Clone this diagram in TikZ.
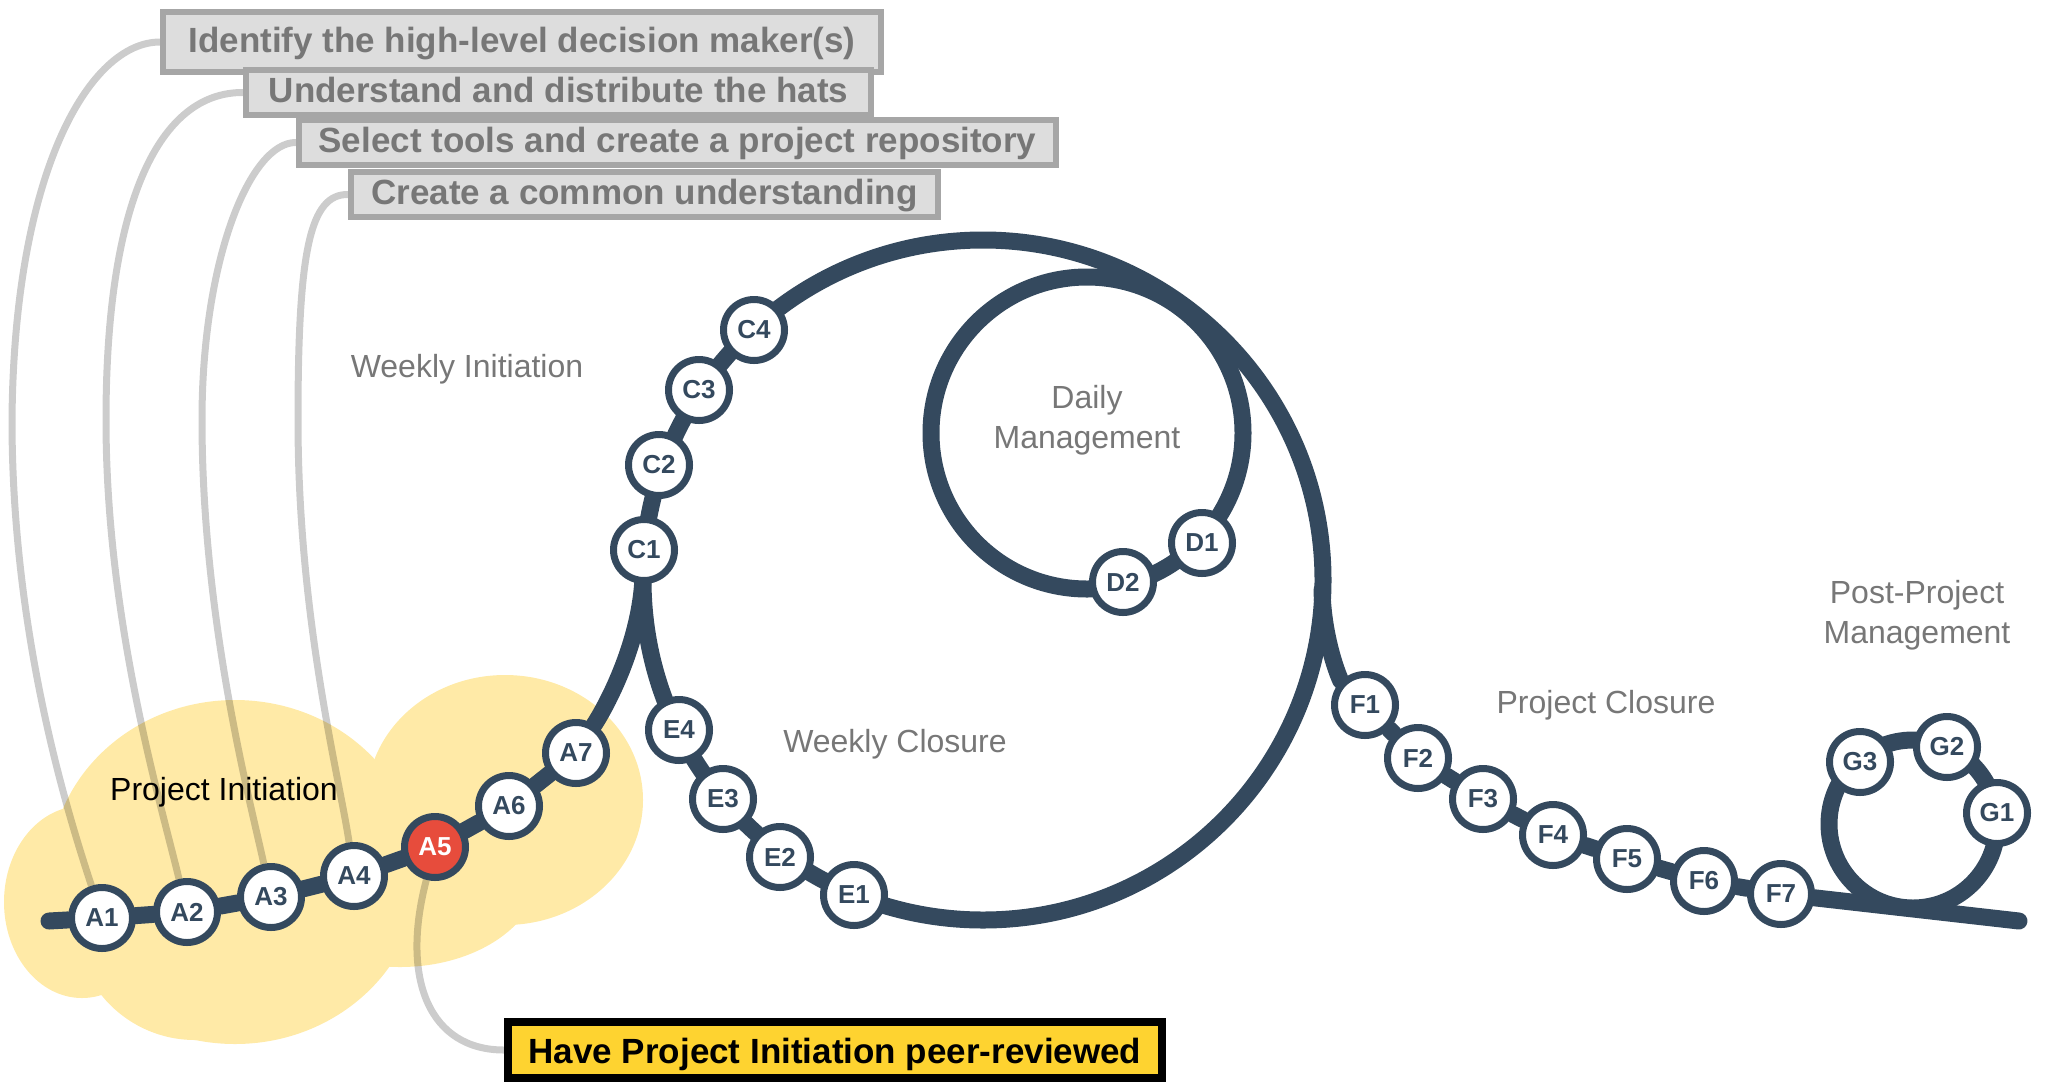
\documentclass[tikz,border=0pt]{standalone}
\usepackage{fontspec}
\setmainfont{Liberation Sans}
\usetikzlibrary{backgrounds}
\definecolor{slate}{RGB}{52,73,94}
\definecolor{coral}{RGB}{231,76,60}
\definecolor{sand}{RGB}{255,234,167}
\definecolor{gold}{RGB}{254,211,48}
\definecolor{fog}{RGB}{221,221,221}
\definecolor{ash}{RGB}{166,166,166}
\definecolor{stone}{RGB}{119,119,119}
\tikzset{
  track/.style={draw=slate,line width=17pt,line cap=round},
  stop/.style={circle,draw=slate,fill=#1,line width=7pt,minimum size=61pt,inner sep=0pt,
    text=slate,font=\fontsize{26}{26}\selectfont\bfseries},
  stop/.default=white,
  task/.style={draw=ash,fill=fog,line width=6pt,minimum height=45pt,inner sep=0pt,
    text height=26pt,text depth=6pt,text=stone,font=\fontsize{35}{35}\selectfont\bfseries},
  lead/.style={draw=black,draw opacity=0.2,line width=7pt},
  tag/.style={text=stone,align=center,font=\fontsize{32}{40}\selectfont},
}
\begin{document}
\begin{tikzpicture}[x=1pt,y=-1pt]
  \useasboundingbox (0,0) rectangle (2055,1085);
  % stations
  \foreach \n/\x/\y in {A1/102/918,A2/187/912,A3/271/897,A4/354/876,A6/509/806,A7/576/753,
    C1/644/550,C2/659/465,C3/699/390,C4/754/330,D1/1202/543,D2/1123/582,
    E1/854/895,E2/780/857,E3/723/799,E4/679/730,
    F1/1365/705,F2/1418/758,F3/1483/799,F4/1553/835,F5/1627/859,F6/1704/881,F7/1781/894,
    G1/1997/813,G2/1947/747,G3/1860/762}
    \node[stop] (\n) at (\x,\y) {\n};
  \node[stop=coral,text=white] (A5) at (435,847) {A5};
  \coordinate (start) at (49,921);
  \coordinate (tail) at (2019,921);
  \coordinate (merge) at (643,578);
  \coordinate (fork) at (1322,590);
  \coordinate (hub) at (983,580);
  \coordinate (dhub) at (1087,433);
  \coordinate (ghub) at (1913,824);
  % phase names
  \node[tag,anchor=base] (wi) at (467,377) {Weekly Initiation};
  \node[tag,anchor=base] (wc) at (895,752) {Weekly Closure};
  \node[tag,anchor=base] (pc) at (1606,713) {Project Closure};
  \node[tag] (dm) at (1087,420) {Daily\\Management};
  \node[tag] (pm) at (1917,615) {Post-Project\\Management};
  \node[tag,text=black,anchor=base] (pi) at (224,800) {Project Initiation};
  % tasks
  \node[task,minimum width=718pt,minimum height=60pt] (t1) at (522,42) {Identify the high-level decision maker(s)};
  \node[task,minimum width=625pt] (t2) at (558.5,92.5) {Understand and distribute the hats};
  \node[task,minimum width=757pt] (t3) at (677.5,142.5) {Select tools and create a project repository};
  \node[task,minimum width=587pt] (t4) at (644.5,194.5) {Create a common understanding};
  \node[draw=black,fill=gold,line width=8pt,minimum width=654pt,minimum height=56pt,inner sep=0pt,
    text height=26pt,text depth=0pt,font=\fontsize{35}{35}\selectfont\bfseries] (peer) at (835,1050)
    {Have Project Initiation peer-reviewed};
  \begin{scope}[on background layer]
    \foreach \x/\y/\rx/\ry in {82/902/78/96,235/872/185/172,505/800/138/125,195/920/120/120,400/870/140/97}
      \fill[sand] (\x,\y) ellipse[x radius=\rx pt,y radius=\ry pt];
    \draw[lead] (t1.west) .. controls (90,42) and (14,170) .. (12,420) .. controls (12,640) and (70,820) .. (A1);
    \draw[lead] (t2.west) .. controls (160,92) and (106,200) .. (106,420) .. controls (106,620) and (160,800) .. (A2);
    \draw[lead] (t3.west) .. controls (250,142) and (202,260) .. (202,420) .. controls (202,620) and (250,800) .. (A3);
    \draw[lead] (t4.west) .. controls (310,194) and (298,250) .. (298,420) .. controls (298,620) and (340,780) .. (A4);
    \draw[lead] (A5) .. controls (400,980) and (430,1050) .. (peer.west);
    \draw[track] (start) -- (A1) -- (A2) -- (A3) -- (A4) -- (A5) -- (A6) -- (A7);
    \draw[track] (A7) .. controls (610,700) and (640,640) .. (merge);
    \draw[track] (hub) circle[radius=340pt];
    \draw[track] (dhub) circle[radius=156pt];
    \draw[track] (fork) .. controls (1323,640) and (1340,680) .. (F1);
    \draw[track] (F1) -- (F2) -- (F3) -- (F4) -- (F5) -- (F6) -- (F7) -- (tail);
    \draw[track] (ghub) circle[radius=84pt];
  \end{scope}
\end{tikzpicture}
\end{document}
